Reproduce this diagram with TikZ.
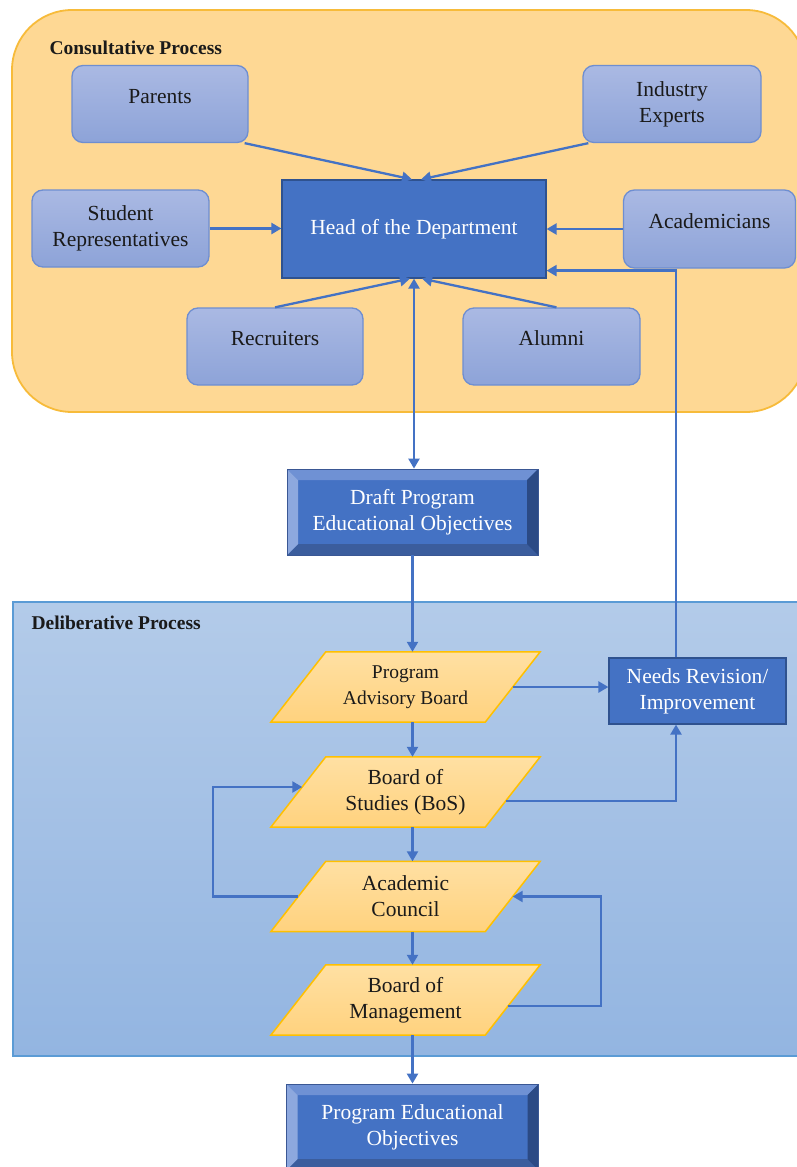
\documentclass[tikz,border=0pt]{standalone}
\usepackage{fontspec}
\setmainfont{Liberation Serif}
\usetikzlibrary{arrows.meta,calc,backgrounds}

\definecolor{consfill}{HTML}{FED894}
\definecolor{consedge}{HTML}{F7BB3A}
\definecolor{delibtop}{HTML}{B3CBE9}
\definecolor{delibbot}{HTML}{93B5E1}
\definecolor{delibedge}{HTML}{5B9BD5}
\definecolor{stakeTop}{HTML}{AAB9E3}
\definecolor{stakeBot}{HTML}{8DA3D8}
\definecolor{stakeEdge}{HTML}{6E8ED1}
\definecolor{deptblue}{HTML}{4472C4}
\definecolor{deptedge}{HTML}{2F528F}
\definecolor{paraTop}{HTML}{FFE0A3}
\definecolor{paraBot}{HTML}{FFD27E}
\definecolor{paraEdge}{HTML}{FFC000}
\definecolor{bevelTop}{HTML}{6F91D4}
\definecolor{bevelLeft}{HTML}{8DA8DE}
\definecolor{bevelRight}{HTML}{2B4A85}
\definecolor{bevelBottom}{HTML}{3B5D9D}
\definecolor{bevelEdge}{HTML}{3A5794}
\definecolor{flow}{HTML}{4472C4}
\definecolor{ink}{HTML}{1A1A1A}

% draws the slanted (parallelogram) outline behind a decision-body node
\newcommand\slantbox[1]{%
  \path[slantshape]
    ($(#1.south west)+(-27.5,0)$) -- ($(#1.north west)+(27.5,0)$) --
    ($(#1.north east)+(27.5,0)$) -- ($(#1.south east)+(-27.5,0)$) -- cycle;}

\begin{document}
\begin{tikzpicture}[x=1pt,y=-1pt,
  >={Triangle[length=10pt,width=11pt]},
  base/.style={font=\fontsize{21.5}{26}\selectfont, align=center, inner sep=0pt, text=ink},
  stakeholder/.style={base, draw=stakeEdge, line width=1.3pt, rounded corners=11pt,
    top color=stakeTop, bottom color=stakeBot, minimum width=176pt, minimum height=77pt},
  oneline/.style={text height=14pt, text depth=16pt},
  dept/.style={base, text=white, fill=deptblue, draw=deptedge, line width=1.2pt},
  bevelbox/.style={base, text=white, fill=deptblue, draw=bevelEdge, line width=.8pt,
    minimum width=251pt, minimum height=86pt,
    path picture={
      \fill[bevelTop] (path picture bounding box.north west) -- (path picture bounding box.north east)
        -- ([shift={(-11pt,-11pt)}]path picture bounding box.north east)
        -- ([shift={(11pt,-11pt)}]path picture bounding box.north west) -- cycle;
      \fill[bevelBottom] (path picture bounding box.south west) -- (path picture bounding box.south east)
        -- ([shift={(-11pt,11pt)}]path picture bounding box.south east)
        -- ([shift={(11pt,11pt)}]path picture bounding box.south west) -- cycle;
      \fill[bevelLeft] (path picture bounding box.north west) -- (path picture bounding box.south west)
        -- ([shift={(11pt,11pt)}]path picture bounding box.south west)
        -- ([shift={(11pt,-11pt)}]path picture bounding box.north west) -- cycle;
      \fill[bevelRight] (path picture bounding box.north east) -- (path picture bounding box.south east)
        -- ([shift={(-11pt,11pt)}]path picture bounding box.south east)
        -- ([shift={(-11pt,-11pt)}]path picture bounding box.north east) -- cycle;
    }},
  para/.style={base, minimum width=214pt, minimum height=70pt},
  slantshape/.style={draw=paraEdge, line width=1.5pt, top color=paraTop, bottom color=paraBot},
  region label/.style={anchor=base west, text=ink, font=\bfseries\fontsize{19.5}{24}\selectfont},
  flowline/.style={draw=flow, line width=2.3pt, ->},
]
\useasboundingbox (0,0) rectangle (796,1167);

% process regions
\begin{scope}[on background layer]
  \draw[fill=consfill, draw=consedge, line width=1.8pt, rounded corners=60pt] (12,10) rectangle (806,412);
  \draw[top color=delibtop, bottom color=delibbot, draw=delibedge, line width=1.4pt] (13,602) rectangle (806,1056);
\end{scope}

\node[region label] (conslabel) at (46,54) {Consultative Process};
\node[region label] (delilabel) at (28,629) {Deliberative Process};

% stakeholders
\node[stakeholder, oneline] (parents)  at (160,104)   {Parents};
\node[stakeholder, minimum width=178pt] (industry) at (672,104) {Industry\\Experts};
\node[stakeholder, minimum width=177pt] (student)  at (120.5,228.5) {Student\\Representatives};
\node[stakeholder, oneline, minimum width=172pt, minimum height=78pt] (academ) at (709.5,229) {Academicians};
\node[stakeholder, oneline] (recruit)  at (275,346.5) {Recruiters};
\node[stakeholder, oneline, minimum width=177pt] (alumni)   at (551.5,346.5) {Alumni};

\node[dept, minimum width=264pt, minimum height=98pt] (hod) at (414,229) {Head of the Department};

\node[bevelbox] (draft) at (412.5,512) {Draft Program\\Educational Objectives};

% deliberative bodies
\node[para, font=\fontsize{19.5}{26}\selectfont] (pab) at (405.5,687)  {Program\\Advisory Board};
\node[para] (bos) at (405.5,792)  {Board of\\Studies (BoS)};
\node[para] (ac)  at (405.5,896.5) {Academic\\Council};
\node[para] (bom) at (405.5,1000) {Board of\\Management};
\begin{scope}[on background layer]
  \slantbox{pab}\slantbox{bos}\slantbox{ac}\slantbox{bom}
\end{scope}

\node[dept, minimum width=177pt, minimum height=66pt] (needs) at (697.5,691) {Needs Revision/\\Improvement};

\node[bevelbox, minimum width=252pt] (peo) at (412.5,1127) {Program Educational\\Objectives};

% consultative inputs
\draw[flowline] ([xshift=-4pt]parents.south east) -- ([xshift=-2pt]hod.north);
\draw[flowline] ([xshift=6pt]industry.south west) -- ([xshift=7pt]hod.north);
\draw[flowline] (student.east) -- (student.east -| hod.west);
\draw[flowline] (academ.west) -- (academ.west -| hod.east);
\draw[flowline] (recruit.north) -- ([xshift=-4pt]hod.south);
\draw[flowline] ([xshift=5pt]alumni.north) -- ([xshift=8pt]hod.south);
\draw[flowline, <->] (hod.south) -- (hod.south |- draft.north);

% deliberative flow
\coordinate (rv) at ($(needs.north)+(-21.5,0)$);
\draw[flowline] (draft.south) -- (draft.south |- pab.north);
\draw[flowline] (pab.east) -- (pab.east -| needs.west);
\draw[flowline] (rv) |- ([yshift=8pt]hod.south east);
\draw[flowline] (pab.south -| draft.south) -- (bos.north -| draft.south);
\draw[flowline] ([shift={(-7pt,-9pt)}]bos.east) -| (needs.south -| rv);
\draw[flowline] (bos.south -| draft.south) -- (ac.north -| draft.south);
\draw[flowline] (ac.west) -- ++(-85.5,0) |- ([shift={(4pt,5pt)}]bos.west);
\draw[flowline] (ac.south -| draft.south) -- (bom.north -| draft.south);
\draw[flowline] ([shift={(-5pt,-6pt)}]bom.east) -- ++(93.5,0) |- (ac.east);
\draw[flowline] (bom.south -| draft.south) -- (peo.north -| draft.south);
\end{tikzpicture}
\end{document}
